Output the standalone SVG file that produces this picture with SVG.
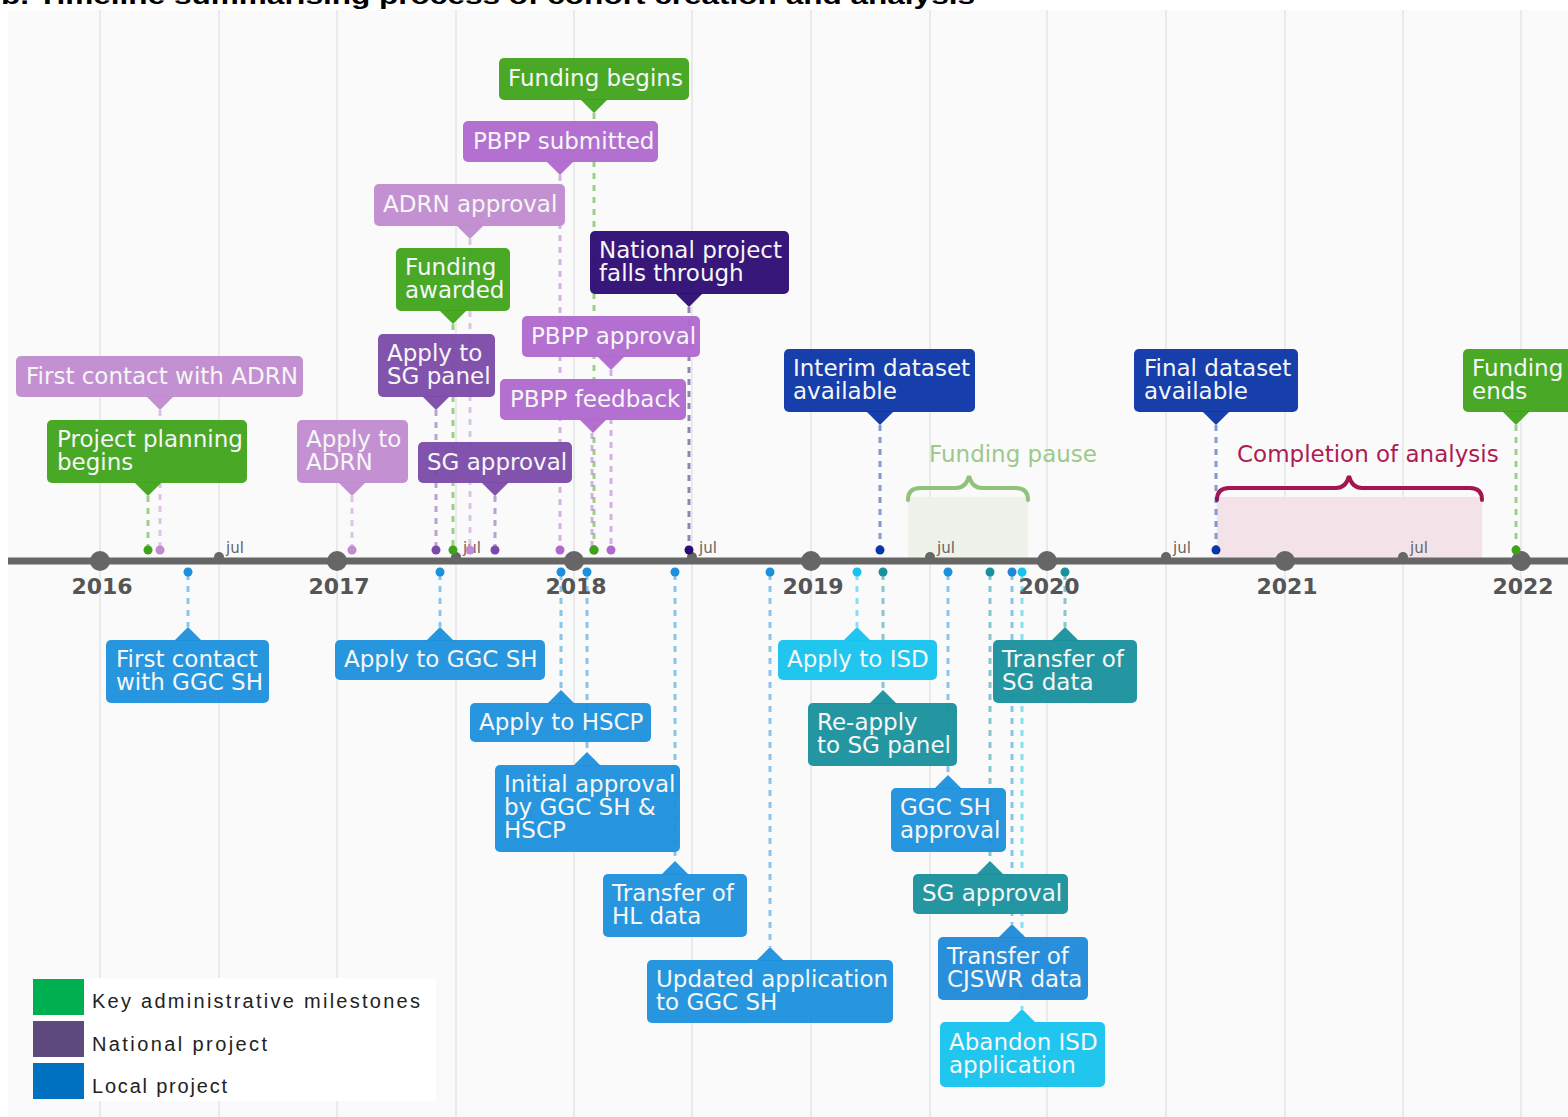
<svg xmlns="http://www.w3.org/2000/svg" width="1568" height="1117" viewBox="0 0 1568 1117">
<style>
.bg{fill:#fafafa}
.grid{stroke:#e4e4e4;stroke-width:1.5}
.axis{stroke:#666;stroke-width:7}
.yr{fill:#666}
.yl{font-family:"DejaVu Sans",sans-serif;font-weight:bold;font-size:22px;fill:#555;text-anchor:middle}
.jul{font-family:"DejaVu Sans",sans-serif;font-size:15px;fill:#666}
.node text{font-family:"DejaVu Sans",sans-serif;font-size:23px;fill:#f6f6f6}
.node rect,.node polygon{opacity:0.95}
.green{fill:#3fa31a;stroke:#3fa31a}
.lpur{fill:#c08bd0;stroke:#c08bd0}
.mpur{fill:#b068cf;stroke:#b068cf}
.pur{fill:#7b4aa8;stroke:#7b4aa8}
.navy{fill:#2d0b73;stroke:#2d0b73}
.dblue{fill:#0a35a8;stroke:#0a35a8}
.blue{fill:#1b90dc;stroke:#1b90dc}
.blue2{fill:#1f89d8;stroke:#1f89d8}
.cyan{fill:#15c3ee;stroke:#15c3ee}
.teal{fill:#18909d;stroke:#18909d}
.node rect,.node polygon{stroke:none}
.node text{stroke:none}
.con line{stroke-width:3;stroke-dasharray:6 6;stroke-opacity:0.5;fill:none}
.con circle{stroke:none}
.lab{font-family:"DejaVu Sans",sans-serif;font-size:23px}
.leg{font-family:"Liberation Sans",Arial,sans-serif;font-size:20px;fill:#222}
</style>
<rect x="0" y="0" width="1568" height="1117" fill="#ffffff"/>
<rect class="bg" x="8" y="10" width="1560" height="1107"/>
<text x="1" y="4" font-family="Liberation Sans, Arial, sans-serif" font-weight="bold" font-size="24" fill="#000" textLength="974" lengthAdjust="spacingAndGlyphs">b. Timeline summarising process of cohort creation and analysis</text>

<g id="grid">
<line class="grid" x1="100" y1="10" x2="100" y2="1117"/>
<line class="grid" x1="219" y1="10" x2="219" y2="1117"/>
<line class="grid" x1="337" y1="10" x2="337" y2="1117"/>
<line class="grid" x1="456" y1="10" x2="456" y2="1117"/>
<line class="grid" x1="574" y1="10" x2="574" y2="1117"/>
<line class="grid" x1="692" y1="10" x2="692" y2="1117"/>
<line class="grid" x1="811" y1="10" x2="811" y2="1117"/>
<line class="grid" x1="930" y1="10" x2="930" y2="1117"/>
<line class="grid" x1="1047" y1="10" x2="1047" y2="1117"/>
<line class="grid" x1="1166" y1="10" x2="1166" y2="1117"/>
<line class="grid" x1="1285" y1="10" x2="1285" y2="1117"/>
<line class="grid" x1="1403" y1="10" x2="1403" y2="1117"/>
<line class="grid" x1="1521" y1="10" x2="1521" y2="1117"/>
</g>

<g id="periods">
<rect x="908" y="497" width="120" height="64" fill="#eef2eb"/>
<path d="M908,500 Q908,488 920,488 L956,488 Q966,488 969,476 Q972,488 982,488 L1016,488 Q1028,488 1028,500" fill="none" stroke="#8fc27a" stroke-width="4" stroke-linecap="round"/>
<text class="lab" x="929" y="462" fill="#9dc98a">Funding pause</text>
<rect x="1217" y="497" width="265" height="64" fill="#f3e3e8"/>
<path d="M1217,500 Q1217,488 1229,488 L1336,488 Q1346,488 1349,476 Q1352,488 1362,488 L1470,488 Q1482,488 1482,500" fill="none" stroke="#a3174f" stroke-width="4" stroke-linecap="round"/>
<text class="lab" x="1237" y="462" fill="#b01a52">Completion of analysis</text>
</g>

<g id="axis">
<line class="axis" x1="8" y1="561" x2="1568" y2="561"/>
<circle class="yr" cx="100" cy="561" r="10"/>
<circle class="yr" cx="337" cy="561" r="10"/>
<circle class="yr" cx="574" cy="561" r="10"/>
<circle class="yr" cx="811" cy="561" r="10"/>
<circle class="yr" cx="1047" cy="561" r="10"/>
<circle class="yr" cx="1285" cy="561" r="10"/>
<circle class="yr" cx="1521" cy="561" r="10"/>
<circle class="yr" cx="219" cy="557" r="5"/>
<circle class="yr" cx="456" cy="557" r="5"/>
<circle class="yr" cx="692" cy="557" r="5"/>
<circle class="yr" cx="930" cy="557" r="5"/>
<circle class="yr" cx="1166" cy="557" r="5"/>
<circle class="yr" cx="1403" cy="557" r="5"/>
<text class="jul" x="226" y="553">jul</text>
<text class="jul" x="463" y="553">jul</text>
<text class="jul" x="699" y="553">jul</text>
<text class="jul" x="937" y="553">jul</text>
<text class="jul" x="1173" y="553">jul</text>
<text class="jul" x="1410" y="553">jul</text>
<text class="yl" x="102" y="594">2016</text>
<text class="yl" x="339" y="594">2017</text>
<text class="yl" x="576" y="594">2018</text>
<text class="yl" x="813" y="594">2019</text>
<text class="yl" x="1049" y="594">2020</text>
<text class="yl" x="1287" y="594">2021</text>
<text class="yl" x="1523" y="594">2022</text>
</g>

<g id="connectors" class="con">
<line class="green" x1="594" y1="113" x2="594" y2="548"/><circle class="green" cx="594" cy="550" r="4.5"/>
<line class="mpur" x1="560" y1="175" x2="560" y2="548"/><circle class="mpur" cx="560" cy="550" r="4.5"/>
<line class="lpur" x1="470" y1="239" x2="470" y2="548"/><circle class="lpur" cx="470" cy="550" r="4.5"/>
<line class="green" x1="453" y1="324" x2="453" y2="548"/><circle class="green" cx="453" cy="550" r="4.5"/>
<line class="navy" x1="689" y1="307" x2="689" y2="548"/><circle class="navy" cx="689" cy="550" r="4.5"/>
<line class="pur" x1="436" y1="410" x2="436" y2="548"/><circle class="pur" cx="436" cy="550" r="4.5"/>
<line class="mpur" x1="611" y1="370" x2="611" y2="548"/><circle class="mpur" cx="611" cy="550" r="4.5"/>
<line class="mpur" x1="592" y1="433" x2="592" y2="548"/>
<line class="pur" x1="495" y1="496" x2="495" y2="548"/><circle class="pur" cx="495" cy="550" r="4.5"/>
<line class="lpur" x1="160" y1="410" x2="160" y2="548"/><circle class="lpur" cx="160" cy="550" r="4.5"/>
<line class="green" x1="148" y1="496" x2="148" y2="548"/><circle class="green" cx="148" cy="550" r="4.5"/>
<line class="lpur" x1="352" y1="496" x2="352" y2="548"/><circle class="lpur" cx="352" cy="550" r="4.5"/>
<line class="dblue" x1="880" y1="425" x2="880" y2="548"/><circle class="dblue" cx="880" cy="550" r="4.5"/>
<line class="dblue" x1="1216" y1="425" x2="1216" y2="548"/><circle class="dblue" cx="1216" cy="550" r="4.5"/>
<line class="green" x1="1516" y1="425" x2="1516" y2="548"/><circle class="green" cx="1516" cy="550" r="4.5"/>
<circle class="green" cx="594" cy="550" r="4.5"/>

<line class="blue" x1="188" y1="574" x2="188" y2="627"/><circle class="blue" cx="188" cy="572" r="4.5"/>
<line class="blue" x1="440" y1="574" x2="440" y2="627"/><circle class="blue" cx="440" cy="572" r="4.5"/>
<line class="blue" x1="561" y1="574" x2="561" y2="690"/><circle class="blue" cx="561" cy="572" r="4.5"/>
<line class="blue" x1="587" y1="574" x2="587" y2="752"/><circle class="blue" cx="587" cy="572" r="4.5"/>
<line class="blue" x1="675" y1="574" x2="675" y2="861"/><circle class="blue" cx="675" cy="572" r="4.5"/>
<line class="blue" x1="770" y1="574" x2="770" y2="947"/><circle class="blue" cx="770" cy="572" r="4.5"/>
<line class="cyan" x1="857" y1="574" x2="857" y2="627"/><circle class="cyan" cx="857" cy="572" r="4.5"/>
<line class="teal" x1="883" y1="574" x2="883" y2="690"/><circle class="teal" cx="883" cy="572" r="4.5"/>
<line class="blue" x1="948" y1="574" x2="948" y2="775"/><circle class="blue" cx="948" cy="572" r="4.5"/>
<line class="teal" x1="1065" y1="574" x2="1065" y2="627"/><circle class="teal" cx="1065" cy="572" r="4.5"/>
<line class="teal" x1="990" y1="574" x2="990" y2="861"/><circle class="teal" cx="990" cy="572" r="4.5"/>
<line class="blue2" x1="1012" y1="574" x2="1012" y2="924"/><circle class="blue2" cx="1012" cy="572" r="4.5"/>
<line class="cyan" x1="1022" y1="574" x2="1022" y2="1009"/><circle class="cyan" cx="1022" cy="572" r="4.5"/>
</g>

<g id="n-funding-begins" class="node green"><rect x="499" y="58" width="190" height="42" rx="5"/><polygon points="580,99 594,113 608,99"/><text x="508" y="86">Funding begins</text></g>
<g id="n-pbpp-submitted" class="node mpur"><rect x="463" y="121" width="195" height="41" rx="5"/><polygon points="546,161 560,175 574,161"/><text x="473" y="149">PBPP submitted</text></g>
<g id="n-adrn-approval" class="node lpur"><rect x="374" y="184" width="191" height="42" rx="5"/><polygon points="456,225 470,239 484,225"/><text x="383" y="212">ADRN approval</text></g>
<g id="n-funding-awarded" class="node green"><rect x="396" y="248" width="114" height="63" rx="5"/><polygon points="439,310 453,324 467,310"/><text x="405" y="275">Funding</text><text x="405" y="298">awarded</text></g>
<g id="n-national-falls" class="node navy"><rect x="590" y="231" width="199" height="63" rx="5"/><polygon points="675,293 689,307 703,293"/><text x="599" y="258">National project</text><text x="599" y="281">falls through</text></g>
<g id="n-apply-sg-panel" class="node pur"><rect x="378" y="334" width="117" height="63" rx="5"/><polygon points="422,396 436,410 450,396"/><text x="387" y="361">Apply to</text><text x="387" y="384">SG panel</text></g>
<g id="n-pbpp-approval" class="node mpur"><rect x="522" y="316" width="178" height="41" rx="5"/><polygon points="597,356 611,370 625,356"/><text x="531" y="344">PBPP approval</text></g>
<g id="n-pbpp-feedback" class="node mpur"><rect x="500" y="379" width="186" height="41" rx="5"/><polygon points="579,419 593,433 607,419"/><text x="510" y="407">PBPP feedback</text></g>
<g id="n-sg-approval" class="node pur"><rect x="418" y="442" width="154" height="41" rx="5"/><polygon points="481,482 495,496 509,482"/><text x="427" y="470">SG approval</text></g>
<g id="n-first-contact-adrn" class="node lpur"><rect x="16" y="356" width="287" height="41" rx="5"/><polygon points="146,396 160,410 174,396"/><text x="26" y="384">First contact with ADRN</text></g>
<g id="n-project-planning" class="node green"><rect x="47" y="420" width="200" height="63" rx="5"/><polygon points="134,482 148,496 162,482"/><text x="57" y="447">Project planning</text><text x="57" y="470">begins</text></g>
<g id="n-apply-adrn" class="node lpur"><rect x="297" y="420" width="111" height="63" rx="5"/><polygon points="338,482 352,496 366,482"/><text x="306" y="447">Apply to</text><text x="306" y="470">ADRN</text></g>
<g id="n-interim-dataset" class="node dblue"><rect x="784" y="349" width="191" height="63" rx="5"/><polygon points="866,411 880,425 894,411"/><text x="793" y="376">Interim dataset</text><text x="793" y="399">available</text></g>
<g id="n-final-dataset" class="node dblue"><rect x="1134" y="349" width="164" height="63" rx="5"/><polygon points="1202,411 1216,425 1230,411"/><text x="1144" y="376">Final dataset</text><text x="1144" y="399">available</text></g>
<g id="n-funding-ends" class="node green"><rect x="1463" y="349" width="112" height="63" rx="5"/><polygon points="1502,411 1516,425 1530,411"/><text x="1472" y="376">Funding</text><text x="1472" y="399">ends</text></g>

<g id="n-first-contact-ggc" class="node blue"><rect x="106" y="640" width="163" height="63" rx="5"/><polygon points="174,641 188,627 202,641"/><text x="116" y="667">First contact</text><text x="116" y="690">with GGC SH</text></g>
<g id="n-apply-ggc" class="node blue"><rect x="335" y="640" width="210" height="40" rx="5"/><polygon points="426,641 440,627 454,641"/><text x="344" y="667">Apply to GGC SH</text></g>
<g id="n-apply-hscp" class="node blue"><rect x="470" y="703" width="181" height="39" rx="5"/><polygon points="547,704 561,690 575,704"/><text x="479" y="730">Apply to HSCP</text></g>
<g id="n-initial-approval" class="node blue"><rect x="495" y="765" width="185" height="87" rx="5"/><polygon points="573,766 587,752 601,766"/><text x="504" y="792">Initial approval</text><text x="504" y="815">by GGC SH &amp;</text><text x="504" y="838">HSCP</text></g>
<g id="n-transfer-hl" class="node blue"><rect x="603" y="874" width="144" height="63" rx="5"/><polygon points="661,875 675,861 689,875"/><text x="612" y="901">Transfer of</text><text x="612" y="924">HL data</text></g>
<g id="n-updated-application" class="node blue"><rect x="647" y="960" width="246" height="63" rx="5"/><polygon points="756,961 770,947 784,961"/><text x="656" y="987">Updated application</text><text x="656" y="1010">to GGC SH</text></g>
<g id="n-apply-isd" class="node cyan"><rect x="778" y="640" width="159" height="40" rx="5"/><polygon points="843,641 857,627 871,641"/><text x="787" y="667">Apply to ISD</text></g>
<g id="n-reapply-sg" class="node teal"><rect x="808" y="703" width="149" height="63" rx="5"/><polygon points="869,704 883,690 897,704"/><text x="817" y="730">Re-apply</text><text x="817" y="753">to SG panel</text></g>
<g id="n-ggc-approval" class="node blue"><rect x="891" y="788" width="115" height="64" rx="5"/><polygon points="934,789 948,775 962,789"/><text x="900" y="815">GGC SH</text><text x="900" y="838">approval</text></g>
<g id="n-transfer-sg" class="node teal"><rect x="993" y="640" width="144" height="63" rx="5"/><polygon points="1051,641 1065,627 1079,641"/><text x="1002" y="667">Transfer of</text><text x="1002" y="690">SG data</text></g>
<g id="n-sg-approval-2" class="node teal"><rect x="913" y="874" width="155" height="40" rx="5"/><polygon points="976,875 990,861 1004,875"/><text x="922" y="901">SG approval</text></g>
<g id="n-transfer-cjswr" class="node blue2"><rect x="938" y="937" width="150" height="63" rx="5"/><polygon points="998,938 1012,924 1026,938"/><text x="947" y="964">Transfer of</text><text x="947" y="987">CJSWR data</text></g>
<g id="n-abandon-isd" class="node cyan"><rect x="940" y="1022" width="165" height="65" rx="5"/><polygon points="1008,1023 1022,1009 1036,1023"/><text x="949" y="1050">Abandon ISD</text><text x="949" y="1073">application</text></g>

<g id="legend">
<rect x="33" y="978" width="403" height="123" fill="#ffffff"/>
<rect x="33" y="979" width="51" height="36" fill="#00b050"/>
<rect x="33" y="1021" width="51" height="36" fill="#5f4a80"/>
<rect x="33" y="1063" width="51" height="36" fill="#0070c0"/>
<text class="leg" x="92" y="1008" textLength="328" lengthAdjust="spacing">Key administrative milestones</text>
<text class="leg" x="92" y="1051" textLength="175" lengthAdjust="spacing">National project</text>
<text class="leg" x="92" y="1093" textLength="135" lengthAdjust="spacing">Local project</text>
</g>
</svg>
